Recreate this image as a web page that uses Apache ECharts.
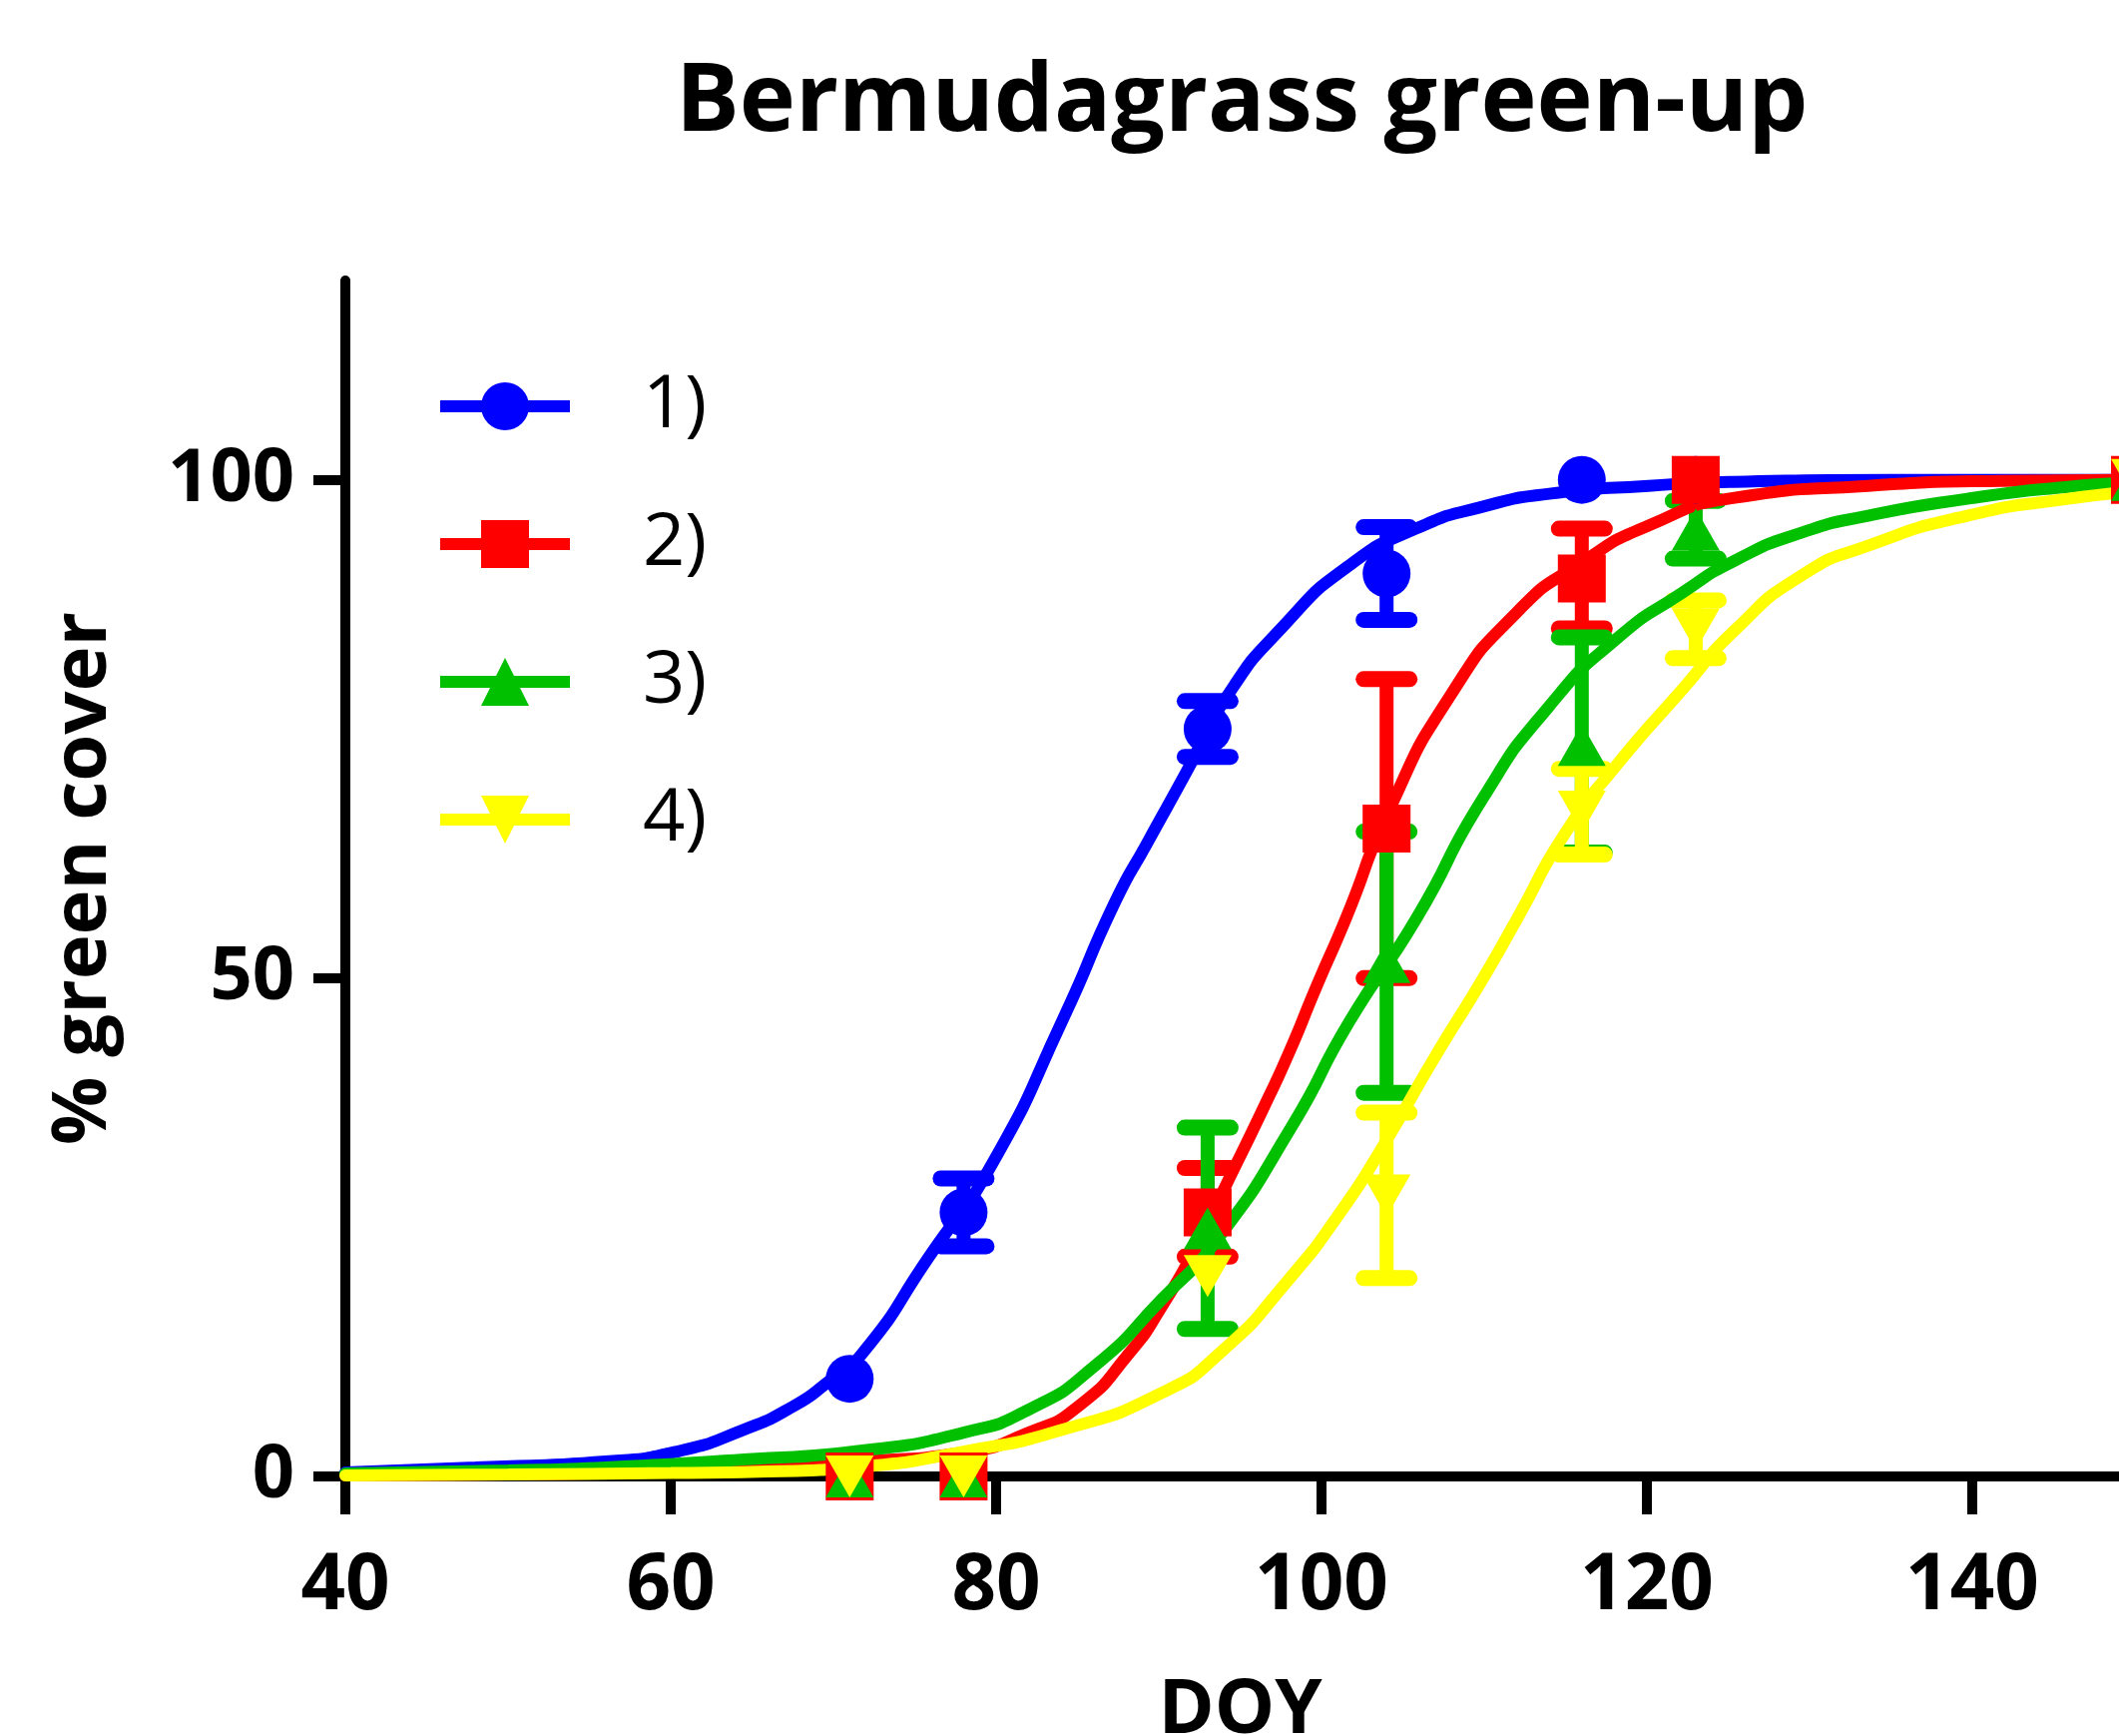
<!DOCTYPE html>
<html><head><meta charset="utf-8">
<script src="https://cdn.jsdelivr.net/npm/echarts@6/dist/echarts.min.js"></script>
<style>html,body{margin:0;padding:0;background:#fff}#c{width:2123px;height:1739px}</style>
</head><body><div id="c"></div>
<script>
// ---- data ----
const groupNames = ['1)', '2)', '3)', '4)'];
const days = [71, 78, 93, 104, 116, 123, 150];
const mean1 = [9.8, 26.5, 75.0, 90.6, 100, 100, 100];
const err1  = [0, 3.4, 2.8, 4.65, 0, 0, 0];
const mean2 = [0, 0, 26.5, 65, 90.1, 100, 100];
const err2  = [0, 0, 4.45, 15, 5, 0, 0];
const mean3 = [0, 0, 24.9, 51.6, 73.4, 95, 100];
const err3  = [0, 0, 10.1, 13.1, 10.8, 2.9, 0];
const mean4 = [0, 0, 20.1, 28.2, 66.7, 85, 100];
const err4  = [0, 0, 0, 8.3, 4.3, 2.9, 0];

// fitted curves
const curve1 = [[40,0.4],[48,0.9],[56,1.5],[60.4,2.5],[64.5,4.7],[67.6,7.1],[69.6,9.4],[71.8,12.4],[75.9,22.1],[79.8,31.5],[84.2,46.2],[87.3,57.6],[89.3,63.6],[91.7,70.7],[94.2,78.3],[97.7,85.4],[101.7,91.4],[105.8,95.1],[109.9,97.3],[114,98.6],[120.1,99.4],[125.4,99.8],[135,100],[150,100]];
const curve2 = [[40,0.1],[50,0.2],[60,0.5],[66,0.9],[71.8,1.5],[78,2.4],[82,4.4],[85.1,7.1],[88.2,12.4],[90.2,17.1],[92.3,23.1],[94.3,29.8],[96.5,37.2],[98,42.5],[99.7,49.2],[101.5,56],[104.2,67],[107.9,78.3],[112,86.7],[116,91.7],[120.1,95.4],[125.4,98.2],[133.6,99.4],[141.8,99.9],[150,100]];
const curve3 = [[40,0.3],[50,0.6],[56,0.9],[64.5,1.7],[71.8,2.6],[78,4.4],[82,6.7],[86,11],[90.2,17.8],[93.6,23.8],[98.2,35.2],[101.7,45.6],[105.8,55.9],[109.9,68],[114,77.3],[118.1,84],[122.2,88.7],[125.4,91.9],[129.5,94.7],[133.6,96.4],[139.7,98.1],[145.9,99.3],[150,99.7]];
const curve4 = [[40,0.1],[50,0.2],[60,0.35],[66,0.5],[71.8,1.0],[78,2.5],[84.1,4.7],[90.2,8.4],[93.9,12.6],[97.9,19.6],[101.2,26.6],[103.8,33.2],[106.9,41.9],[109.9,49.9],[112,55.9],[115,64.6],[118.1,71.3],[122.2,79],[125.4,84.9],[129.5,90.4],[133.6,93.4],[139.7,96.4],[145.9,98.1],[150,98.8]];

const xTicks = [40, 60, 80, 100, 120, 140];
const yTicks = [0, 50, 100];

// ---- styling ----
const colors = ['#0000FF', '#FF0000', '#00C000', '#FFFF00'];
const symbols = ['circle', 'rect', 'triangle', 'triangle'];
const symRot = [0, 0, 0, 180];
const symSize = [48, 48, [48, 42], [48, 42]];
const means = [mean1, mean2, mean3, mean4];
const errs = [err1, err2, err3, err4];
const curves = [curve1, curve2, curve3, curve4];
const FONT = 'Open Sans';

function errRender(params, api) {
  const x = api.value(0), m = api.value(1), e = api.value(2);
  if (!(e > 0)) return null;
  const t = api.coord([x, m + e]);
  const b = api.coord([x, m - e]);
  const c = api.visual('color');
  const half = 23;
  return {
    type: 'group',
    children: [
      {type: 'line', shape: {x1: t[0], y1: t[1], x2: b[0], y2: b[1]}, style: {stroke: c, lineWidth: 14}},
      {type: 'line', shape: {x1: t[0] - half, y1: t[1], x2: t[0] + half, y2: t[1]}, style: {stroke: c, lineWidth: 16, lineCap: 'round'}},
      {type: 'line', shape: {x1: b[0] - half, y1: b[1], x2: b[0] + half, y2: b[1]}, style: {stroke: c, lineWidth: 16, lineCap: 'round'}}
    ]
  };
}

const series = [];
for (let i = 0; i < 4; i++) {
  series.push({
    name: groupNames[i] + ' SD',
    type: 'custom',
    renderItem: errRender,
    data: days.map((d, k) => [d, means[i][k], errs[i][k]]),
    encode: {x: 0, y: 1},
    itemStyle: {color: colors[i]},
    clip: false,
    silent: true
  });
  series.push({
    name: groupNames[i],
    type: 'line',
    data: days.map((d, k) => [d, means[i][k]]),
    symbol: symbols[i],
    symbolSize: symSize[i],
    symbolRotate: symRot[i],
    showAllSymbol: true,
    lineStyle: {width: 0, opacity: 0},
    itemStyle: {color: colors[i], opacity: 1},
    clip: false,
    silent: true
  });
  series.push({
    name: groupNames[i] + ' fit',
    type: 'line',
    data: curves[i],
    showSymbol: false,
    symbol: 'none',
    smooth: 0.6,
    lineStyle: {width: 12, color: colors[i], cap: 'round'},
    itemStyle: {color: colors[i]},
    silent: true
  });
}

const chart = echarts.init(document.getElementById('c'), null, {renderer: 'canvas'});
chart.setOption({
  animation: false,
  backgroundColor: '#ffffff',
  title: {
    text: 'Bermudagrass green-up',
    left: 677, top: 56, padding: 0,
    textStyle: {fontFamily: FONT, fontWeight: 'bold', fontSize: 95, color: '#000'}
  },
  legend: {
    data: groupNames,
    orient: 'vertical',
    left: 435, top: 370, padding: 0,
    itemWidth: 130, itemHeight: 60, itemGap: 64,
    selectedMode: false,
    textStyle: {fontFamily: FONT, fontSize: 74, color: '#000', lineHeight: 60, padding: [0, 0, 0, 68]},
    lineStyle: {width: 12, opacity: 1}
  },
  grid: {left: 346, right: -16, top: 281, bottom: 260, containLabel: false, outerBoundsMode: 'none'},
  xAxis: {
    type: 'value', min: 40, max: 150, interval: 20,
    name: 'DOY', nameLocation: 'middle', nameGap: 197,
    nameTextStyle: {fontFamily: FONT, fontWeight: 'bold', fontSize: 76, color: '#000'},
    axisLine: {show: true, onZero: false, lineStyle: {color: '#000', width: 10, cap: 'round'}},
    axisTick: {show: true, length: 38, inside: false, customValues: xTicks, lineStyle: {color: '#000', width: 10}},
    axisLabel: {customValues: xTicks, margin: 72, fontFamily: FONT, fontWeight: 'bold', fontSize: 78, color: '#000'},
    splitLine: {show: false}
  },
  yAxis: {
    type: 'value', min: 0, max: 120, interval: 50,
    name: '% green cover', nameLocation: 'middle', nameGap: 224, nameRotate: 90,
    nameTextStyle: {fontFamily: FONT, fontWeight: 'bold', fontSize: 76, color: '#000'},
    axisLine: {show: true, onZero: false, lineStyle: {color: '#000', width: 10, cap: 'round'}},
    axisTick: {show: true, length: 32, inside: false, customValues: yTicks, lineStyle: {color: '#000', width: 10}},
    axisLabel: {customValues: yTicks, margin: 51, fontFamily: FONT, fontWeight: 'bold', fontSize: 74, color: '#000'},
    splitLine: {show: false}
  },
  series: series
});
</script></body></html>
